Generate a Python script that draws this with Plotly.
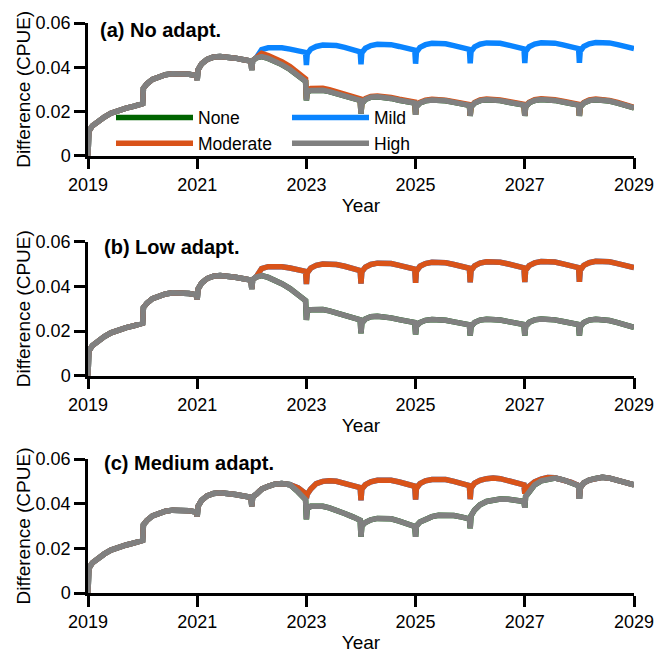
import plotly.graph_objects as go

# ---------------- data ----------------
t = [
    2019.000, 2019.015, 2019.08, 2019.18, 2019.30, 2019.42, 2019.55, 2019.70, 2019.85, 2019.985,
    2020.000, 2020.015, 2020.08, 2020.18, 2020.30, 2020.42, 2020.55, 2020.70, 2020.85, 2020.985,
    2021.000, 2021.015, 2021.08, 2021.18, 2021.30, 2021.42, 2021.55, 2021.70, 2021.85, 2021.985,
    2022.000, 2022.015, 2022.08, 2022.18, 2022.30, 2022.42, 2022.55, 2022.70, 2022.85, 2022.985,
    2023.000, 2023.015, 2023.08, 2023.18, 2023.30, 2023.42, 2023.55, 2023.70, 2023.85, 2023.985,
    2024.000, 2024.015, 2024.08, 2024.18, 2024.30, 2024.42, 2024.55, 2024.70, 2024.85, 2024.985,
    2025.000, 2025.015, 2025.08, 2025.18, 2025.30, 2025.42, 2025.55, 2025.70, 2025.85, 2025.985,
    2026.000, 2026.015, 2026.08, 2026.18, 2026.30, 2026.42, 2026.55, 2026.70, 2026.85, 2026.985,
    2027.000, 2027.015, 2027.08, 2027.18, 2027.30, 2027.42, 2027.55, 2027.70, 2027.85, 2027.985,
    2028.000, 2028.015, 2028.08, 2028.18, 2028.30, 2028.42, 2028.55, 2028.70, 2028.85, 2028.985,
    2029.000,
]

# common history 2019.000 - 2022.08 (all scenarios, all panels)
base = [
    0.0000, 0.0110, 0.0135, 0.0155, 0.0175, 0.0192, 0.0205, 0.0215, 0.0224, 0.0230,
    0.0235, 0.0305, 0.0325, 0.0345, 0.0358, 0.0366, 0.0371, 0.0372, 0.0368, 0.0362,
    0.0342, 0.0388, 0.0415, 0.0435, 0.0446, 0.0449, 0.0447, 0.0441, 0.0434, 0.0428,
    0.0388, 0.0430, 0.0442,
]

# panels (a) and (b): values from 2022.18 on
mild_a = [
    0.0480, 0.0488, 0.0490, 0.0488, 0.0482, 0.0475, 0.0467,
    0.0410, 0.0460, 0.0482, 0.0494, 0.0500, 0.0501, 0.0498, 0.0490, 0.0480, 0.0470,
    0.0413, 0.0465, 0.0486, 0.0498, 0.0504, 0.0505, 0.0502, 0.0494, 0.0485, 0.0477,
    0.0416, 0.0468, 0.0490, 0.0502, 0.0508, 0.0509, 0.0506, 0.0498, 0.0489, 0.0481,
    0.0418, 0.0470, 0.0492, 0.0504, 0.0510, 0.0511, 0.0508, 0.0500, 0.0491, 0.0483,
    0.0419, 0.0471, 0.0493, 0.0505, 0.0511, 0.0512, 0.0509, 0.0501, 0.0492, 0.0484,
    0.0420, 0.0472, 0.0494, 0.0506, 0.0512, 0.0513, 0.0510, 0.0502, 0.0493, 0.0485,
    0.0484,
]
moderate_a = [
    0.0463, 0.0453, 0.0441, 0.0425, 0.0403, 0.0375, 0.0347,
    0.0258, 0.0297, 0.0304, 0.0307, 0.0305, 0.0299, 0.0290, 0.0277, 0.0266, 0.0257,
    0.0194, 0.0239, 0.0258, 0.0268, 0.0270, 0.0268, 0.0263, 0.0255, 0.0248, 0.0242,
    0.0188, 0.0225, 0.0241, 0.0251, 0.0255, 0.0255, 0.0251, 0.0244, 0.0237, 0.0231,
    0.0182, 0.0223, 0.0241, 0.0252, 0.0256, 0.0256, 0.0252, 0.0245, 0.0238, 0.0232,
    0.0182, 0.0224, 0.0242, 0.0253, 0.0257, 0.0257, 0.0253, 0.0246, 0.0238, 0.0232,
    0.0182, 0.0223, 0.0241, 0.0252, 0.0256, 0.0255, 0.0250, 0.0241, 0.0231, 0.0221,
    0.0219,
]
high_a = [
    0.0448, 0.0440, 0.0428, 0.0412, 0.0390, 0.0363, 0.0336,
    0.0250, 0.0288, 0.0295, 0.0298, 0.0296, 0.0290, 0.0281, 0.0269, 0.0259, 0.0250,
    0.0190, 0.0235, 0.0254, 0.0264, 0.0266, 0.0264, 0.0259, 0.0251, 0.0244, 0.0238,
    0.0185, 0.0222, 0.0238, 0.0248, 0.0252, 0.0252, 0.0248, 0.0241, 0.0234, 0.0228,
    0.0180, 0.0220, 0.0238, 0.0249, 0.0253, 0.0253, 0.0249, 0.0242, 0.0235, 0.0229,
    0.0180, 0.0221, 0.0239, 0.0250, 0.0254, 0.0254, 0.0250, 0.0243, 0.0235, 0.0229,
    0.0180, 0.0220, 0.0238, 0.0249, 0.0253, 0.0252, 0.0247, 0.0238, 0.0228, 0.0218,
    0.0216,
]

# panel (c): shared 2022.18 - 2022.70, then values from 2022.85 on
shared_c = [0.0465, 0.0478, 0.0487, 0.0490, 0.0485]
moderate_c = [
    0.0470, 0.0445,
    0.0425, 0.0442, 0.0466, 0.0490, 0.0500, 0.0503, 0.0500, 0.0492, 0.0482, 0.0472,
    0.0415, 0.0465, 0.0485, 0.0498, 0.0505, 0.0507, 0.0505, 0.0497, 0.0488, 0.0478,
    0.0418, 0.0468, 0.0490, 0.0502, 0.0508, 0.0510, 0.0508, 0.0500, 0.0490, 0.0481,
    0.0420, 0.0470, 0.0492, 0.0505, 0.0512, 0.0515, 0.0512, 0.0503, 0.0493, 0.0484,
    0.0445, 0.0460, 0.0478, 0.0498, 0.0510, 0.0517, 0.0516, 0.0507, 0.0496, 0.0481,
    0.0422, 0.0471, 0.0493, 0.0506, 0.0513, 0.0518, 0.0514, 0.0506, 0.0496, 0.0486,
    0.0484,
]
high_c = [
    0.0452, 0.0418,
    0.0330, 0.0378, 0.0388, 0.0390, 0.0388, 0.0381, 0.0371, 0.0356, 0.0341, 0.0326,
    0.0252, 0.0300, 0.0316, 0.0328, 0.0334, 0.0335, 0.0332, 0.0322, 0.0310, 0.0298,
    0.0252, 0.0300, 0.0318, 0.0330, 0.0342, 0.0348, 0.0350, 0.0347, 0.0340, 0.0332,
    0.0290, 0.0345, 0.0372, 0.0395, 0.0410, 0.0418, 0.0421, 0.0420, 0.0415, 0.0410,
    0.0382, 0.0432, 0.0452, 0.0484, 0.0502, 0.0511, 0.0515, 0.0507, 0.0496, 0.0481,
    0.0422, 0.0471, 0.0493, 0.0506, 0.0513, 0.0518, 0.0514, 0.0506, 0.0496, 0.0486,
    0.0484,
]

scenarios = ["None", "Mild", "Moderate", "High"]
colors = ["#006400", "#0A84FF", "#D95319", "#808080"]
legend_of = ["legend", "legend2", "legend", "legend2"]   # two legend columns
panel_titles = ["(a) No adapt.", "(b) Low adapt.", "(c) Medium adapt."]
x_ticks = [2019, 2021, 2023, 2025, 2027, 2029]
x_ticklabels = ["2019", "2021", "2023", "2025", "2027", "2029"]
y_ticks = [0, 0.02, 0.04, 0.06]
y_ticklabels = ["0", "0.02", "0.04", "0.06"]

# series per panel, in scenario order None, Mild, Moderate, High
panel_series = [
    [base + high_a, base + mild_a, base + moderate_a, base + high_a],
    [base + high_a, base + mild_a, base + mild_a, base + high_a],
    [base + shared_c + high_c, base + shared_c + moderate_c,
     base + shared_c + moderate_c, base + shared_c + high_c],
]
for ps in panel_series:
    for s in ps:
        assert len(s) == len(t), len(s)

# ---------------- figure ----------------
# the page body has an 8px margin, so the figure is laid out 8px smaller
OFF = 8
W, H = 668 - OFF, 656 - OFF
ML, MT = 88 - OFF, 23 - OFF
MR = W - (634 - OFF)
MB = H - (593 - OFF)
plot_h = H - MT - MB
plot_w = W - ML - MR
# pixel rows (top, bottom) of each panel, in reference coordinates
rows_ref = [(23, 155.7), (241.7, 375.7), (459, 593)]
domains = [[(H - MB - (b - OFF)) / plot_h, (H - MB - (tp - OFF)) / plot_h] for tp, b in rows_ref]

FONT = "Liberation Sans, Arial, Helvetica, sans-serif"
fig = go.Figure()
for i, series in enumerate(panel_series):
    xa = "x" if i == 0 else f"x{i+1}"
    ya = "y" if i == 0 else f"y{i+1}"
    for name, col, lg, vals in zip(scenarios, colors, legend_of, series):
        fig.add_trace(go.Scatter(
            x=t, y=vals, mode="lines", name=name,
            line=dict(color=col, width=5.5),
            showlegend=(i == 0), legend=lg, xaxis=xa, yaxis=ya,
        ))

axis_common = dict(
    showline=True, linewidth=2.5, linecolor="black", mirror=False,
    ticks="outside", ticklen=11, tickwidth=2.5, tickcolor="black",
    showgrid=False, zeroline=False, automargin=False,
    tickfont=dict(family=FONT, size=18, color="black"),
)
legend_common = dict(
    orientation="v", xanchor="left", yanchor="middle",
    y=(H - MB - (130.5 - OFF)) / plot_h,
    font=dict(family=FONT, size=17.5, color="black"),
    itemwidth=77, bgcolor="rgba(0,0,0,0)", traceorder="normal",
    tracegroupgap=0,
)
layout = dict(
    width=W, height=H,
    margin=dict(l=ML, r=MR, t=MT, b=MB, autoexpand=False),
    paper_bgcolor="white", plot_bgcolor="white",
    font=dict(family=FONT, color="black"),
    showlegend=True,
    legend=dict(legend_common, x=(116 - 5 - 88) / plot_w),
    legend2=dict(legend_common, x=(292 - 5 - 88) / plot_w),
)
for i in range(3):
    xk = "xaxis" if i == 0 else f"xaxis{i+1}"
    yk = "yaxis" if i == 0 else f"yaxis{i+1}"
    ya = "y" if i == 0 else f"y{i+1}"
    xa = "x" if i == 0 else f"x{i+1}"
    layout[xk] = dict(
        axis_common, domain=[0, 1], anchor=ya, range=[2019, 2029],
        tickvals=x_ticks, ticktext=x_ticklabels,
        title=dict(text="Year", font=dict(family=FONT, size=19), standoff=5),
    )
    layout[yk] = dict(
        axis_common, domain=domains[i], anchor=xa, range=[0, 0.06],
        tickvals=y_ticks, ticktext=y_ticklabels,
        title=dict(text="Difference (CPUE)", font=dict(family=FONT, size=19), standoff=0),
    )
fig.update_layout(**layout)

label_pos = [(98, 30), (102, 247), (102, 463)]
for i, (txt, (px, py)) in enumerate(zip(panel_titles, label_pos)):
    tp, b = rows_ref[i]
    xr = "x domain" if i == 0 else f"x{i+1} domain"
    yr = "y domain" if i == 0 else f"y{i+1} domain"
    fig.add_annotation(
        text=f"<b>{txt}</b>", xref=xr, yref=yr,
        x=(px - 88) / plot_w, y=(b - py) / (b - tp),
        xanchor="left", yanchor="middle", showarrow=False,
        font=dict(family=FONT, size=20, color="black"),
    )

fig.write_html("out.html")
